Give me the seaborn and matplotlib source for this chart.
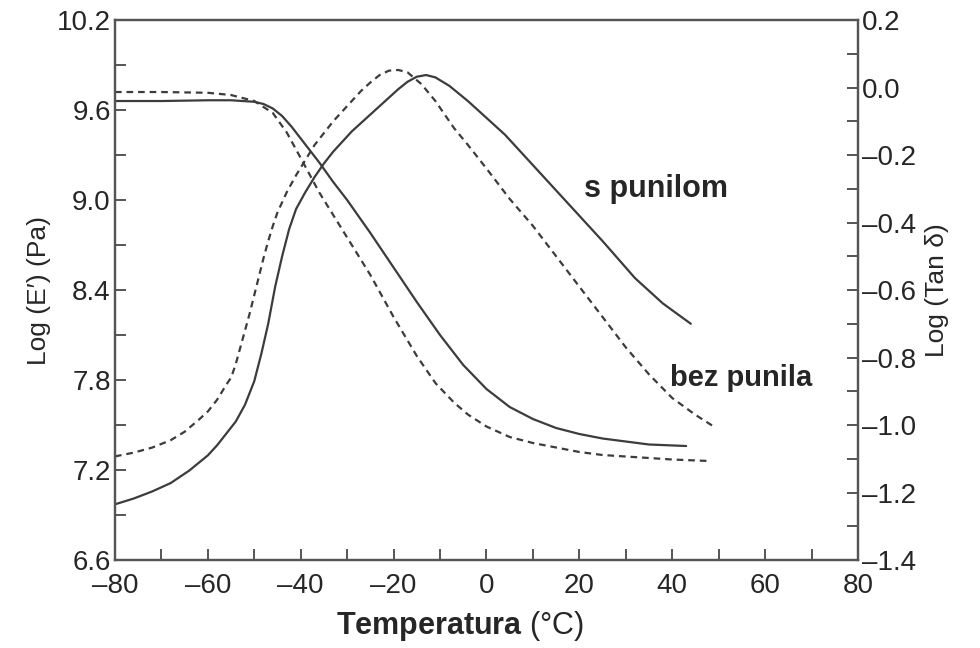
import matplotlib
matplotlib.use("Agg")
import matplotlib.pyplot as plt
from matplotlib.ticker import MultipleLocator, FuncFormatter
import seaborn as sns
import pandas as pd

# storage modulus, with filler (solid) and without (dashed)
t_e_fill = [-80, -70, -60, -55, -50, -48, -46, -44, -42, -40, -38, -36, -33,
            -30, -25, -20, -15, -10, -5, 0, 5, 10, 15, 20, 25, 30, 35, 43]
e_fill = [9.66, 9.66, 9.665, 9.665, 9.655, 9.64, 9.61, 9.56, 9.49, 9.41, 9.33,
          9.25, 9.12, 9.00, 8.78, 8.55, 8.32, 8.10, 7.90, 7.74, 7.62, 7.54,
          7.48, 7.44, 7.41, 7.39, 7.37, 7.36]

t_e_nofill = [-80, -70, -60, -55, -50, -46, -43, -40, -36, -33, -29, -25, -20,
              -15, -11, -7, -4, 0, 5, 10, 15, 20, 25, 30, 35, 40, 48]
e_nofill = [9.72, 9.72, 9.715, 9.70, 9.66, 9.58, 9.45, 9.28, 9.05, 8.90, 8.70,
            8.50, 8.22, 7.96, 7.78, 7.65, 7.57, 7.49, 7.42, 7.38, 7.35, 7.32,
            7.30, 7.29, 7.28, 7.27, 7.26]

# loss tangent
t_tan_fill = [-80, -76, -72, -68, -64, -60, -58, -56, -54, -52, -50, -48.5,
              -47, -45.5, -44, -42.5, -41, -39, -37, -35, -33, -31, -29, -27,
              -25, -23, -21, -19, -17, -15, -13, -11, -8, -4, 0, 4, 8, 12, 18,
              25, 32, 38, 44]
tan_fill = [-1.235, -1.218, -1.197, -1.172, -1.135, -1.09, -1.06, -1.025,
            -0.99, -0.94, -0.87, -0.79, -0.70, -0.59, -0.50, -0.42, -0.36,
            -0.31, -0.265, -0.225, -0.19, -0.16, -0.13, -0.105, -0.08, -0.055,
            -0.03, -0.005, 0.017, 0.032, 0.037, 0.03, 0.005, -0.04, -0.09,
            -0.14, -0.20, -0.26, -0.35, -0.455, -0.565, -0.64, -0.70]

t_tan_nofill = [-80, -76, -72, -68, -65, -62, -60, -58, -56, -55, -54, -53,
                -52, -51, -50, -49, -48, -47, -46, -45, -44, -43, -41, -39,
                -37, -35, -33, -31, -29, -27, -25, -23, -21, -19, -17, -14,
                -11, -7, -4, 0, 5, 10, 15, 20, 25, 30, 35, 40, 45, 49]
tan_nofill = [-1.093, -1.082, -1.067, -1.045, -1.02, -0.985, -0.96, -0.925,
              -0.88, -0.86, -0.82, -0.77, -0.72, -0.67, -0.615, -0.56,
              -0.505, -0.455, -0.41, -0.37, -0.34, -0.31, -0.26, -0.215,
              -0.17, -0.135, -0.10, -0.07, -0.04, -0.01, 0.015, 0.037, 0.05,
              0.052, 0.045, 0.01, -0.04, -0.12, -0.17, -0.24, -0.33, -0.41,
              -0.50, -0.59, -0.68, -0.77, -0.85, -0.92, -0.97, -1.005]

sns.set_style("ticks")
plt.rcParams["font.family"] = ["Liberation Sans", "DejaVu Sans"]
plt.rcParams["mathtext.fontset"] = "custom"
plt.rcParams["mathtext.rm"] = "Liberation Sans"
plt.rcParams["mathtext.bf"] = "Liberation Sans:bold"

line_col = "#3c3c3c"
spine_col = "#555555"

fig = plt.figure(figsize=(9.8, 6.48), dpi=100)
ax = fig.add_axes([0.1173, 0.1358, 0.7582, 0.8333])
ax2 = ax.twinx()

df_e1 = pd.DataFrame({"T": t_e_fill, "v": e_fill})
df_e2 = pd.DataFrame({"T": t_e_nofill, "v": e_nofill})
df_t1 = pd.DataFrame({"T": t_tan_fill, "v": tan_fill})
df_t2 = pd.DataFrame({"T": t_tan_nofill, "v": tan_nofill})

dash = (0, (3, 2.2))
sns.lineplot(data=df_e1, x="T", y="v", ax=ax, color=line_col, lw=1.6, sort=False)
sns.lineplot(data=df_e2, x="T", y="v", ax=ax, color=line_col, lw=1.6, sort=False,
             linestyle=dash)
sns.lineplot(data=df_t1, x="T", y="v", ax=ax2, color=line_col, lw=1.6, sort=False)
sns.lineplot(data=df_t2, x="T", y="v", ax=ax2, color=line_col, lw=1.6, sort=False,
             linestyle=dash)

ax.set_xlim(-80, 80)
ax.set_ylim(6.6, 10.2)
ax2.set_ylim(-1.4, 0.2)

ax.xaxis.set_major_locator(MultipleLocator(20))
ax.xaxis.set_minor_locator(MultipleLocator(10))
ax.yaxis.set_major_locator(MultipleLocator(0.6))
ax.yaxis.set_minor_locator(MultipleLocator(0.3))
ax2.yaxis.set_major_locator(MultipleLocator(0.2))
ax2.yaxis.set_minor_locator(MultipleLocator(0.1))


def dash_fmt(fmt):
    def f(v, p):
        s = fmt.format(v + 0.0)
        if s.startswith("-") and float(s) == 0:
            s = s[1:]
        return s.replace("-", "\u2013")
    return FuncFormatter(f)


ax.xaxis.set_major_formatter(dash_fmt("{:.0f}"))
ax.yaxis.set_major_formatter(dash_fmt("{:.1f}"))
ax2.yaxis.set_major_formatter(dash_fmt("{:.1f}"))

for a in (ax, ax2):
    for s in a.spines.values():
        s.set_color(spine_col)
        s.set_linewidth(1.6)
ax.tick_params(axis="both", which="both", direction="in", length=8,
               width=1.4, color=spine_col, labelsize=20, top=False,
               right=False, pad=3)
ax.tick_params(axis="x", pad=9)
ax2.tick_params(axis="y", which="both", direction="in", length=8,
                width=1.4, color=spine_col, labelsize=20, pad=3)

ax.set_xlabel(r"$\mathbf{Temperatura}$ (°C)", fontsize=22)
ax.xaxis.set_label_coords(0.465, -0.09)
ax.set_ylabel("Log (E\u2032) (Pa)", fontsize=19, labelpad=4)
ax2.set_ylabel("Log (Tan \u03b4)", fontsize=19, labelpad=6)

ax2.text(21, -0.30, "s punilom", fontsize=22, fontweight="bold",
         va="center", ha="left")
ax2.text(39.5, -0.86, "bez punila", fontsize=21, fontweight="bold",
         va="center", ha="left")

fig.savefig("out.png", dpi=100)
